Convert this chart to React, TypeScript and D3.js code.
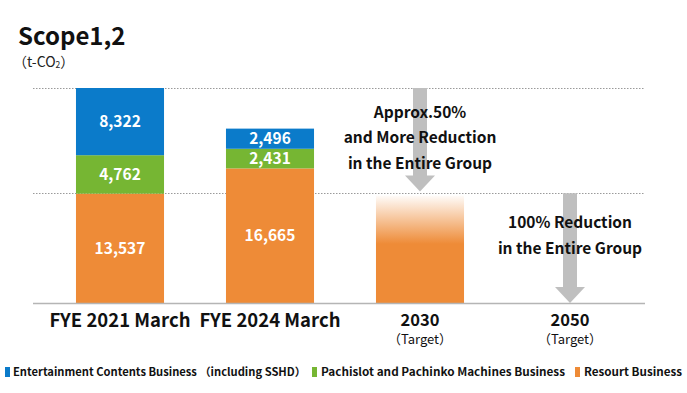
import * as d3 from 'd3';

const categories = ['FYE 2021 March', 'FYE 2024 March', '2030', '2050'];
const subLabels = ['', '', '（Target）', '（Target）'];
const seriesKeys = ['resort', 'pachislot', 'entertainment'];
const seriesNames = [
  'Entertainment Contents Business （including SSHD）',
  'Pachislot and Pachinko Machines Business',
  'Resourt Business',
];
const entertainment = [8322, 2496];
const pachislot = [4762, 2431];
const resort = [13537, 16665];
const target2030 = 13300;
const gridValues = [13600, 26621];
// arrow [from, to] in t-CO2 terms
const arrow2030 = [26621, 13800];
const arrow2050 = [13600, 0];
const note2030 = ['Approx.50%', 'and More Reduction', 'in the Entire Group'];
const note2050 = ['100% Reduction', 'in the Entire Group'];

const BLUE = '#0B7BCA';
const GREEN = '#76B633';
const ORANGE = '#EE8B37';
const ARROW = '#BFBFBF';
const FONT = '"Noto Sans CJK JP", "Noto Sans", sans-serif';

const colorOf: Record<string, string> = {
  entertainment: BLUE,
  pachislot: GREEN,
  resort: ORANGE,
};

const W = 687;
const H = 393;

const App = () => {
  const x = d3
    .scaleBand<string>()
    .domain(categories)
    .range([45, 645])
    .paddingInner(0.413)
    .paddingOuter(0.2065);
  const y = d3.scaleLinear().domain([0, 26621]).range([303, 88]);

  const rows = categories.slice(0, 2).map((c, i) => ({
    cat: c,
    entertainment: entertainment[i],
    pachislot: pachislot[i],
    resort: resort[i],
  }));
  const stacked = d3.stack<any>().keys(seriesKeys)(rows);

  const fmt = d3.format(',');
  const bw = x.bandwidth();

  const arrowPath = (cx: number, from: number, to: number) => {
    const top = y(from);
    const tip = y(to);
    const headLen = 16;
    const shaft = 7;
    const head = 15;
    const pts: [number, number][] = [
      [cx - shaft, top],
      [cx + shaft, top],
      [cx + shaft, tip - headLen],
      [cx + head, tip - headLen],
      [cx, tip],
      [cx - head, tip - headLen],
      [cx - shaft, tip - headLen],
    ];
    return d3.line()(pts) + 'Z';
  };

  const c2030 = x('2030')! + bw / 2;
  const c2050 = x('2050')! + bw / 2;

  const legendItems = [
    { name: seriesNames[0], color: BLUE, mx: 5, tx: 13, len: 293 },
    { name: seriesNames[1], color: GREEN, mx: 312, tx: 321, len: 244 },
    { name: seriesNames[2], color: ORANGE, mx: 575, tx: 584, len: 98 },
  ];

  return (
    <svg
      width={W}
      height={H}
      style={{ position: 'absolute', left: 0, top: 0, background: '#fff' }}
      fontFamily={FONT}
    >
      <defs>
        <linearGradient id="fade" x1="0" y1="0" x2="0" y2="1">
          <stop offset="0" stopColor={ORANGE} stopOpacity={0.03} />
          <stop offset="0.45" stopColor={ORANGE} stopOpacity={1} />
          <stop offset="1" stopColor={ORANGE} stopOpacity={1} />
        </linearGradient>
      </defs>

      {/* title */}
      <text x={18} y={45} fontSize={24} fontWeight="bold" fill="#111">
        Scope1,2
      </text>
      <text x={13} y={67} fontSize={14} fill="#222">
        （t-CO<tspan fontSize={8.5} dy={1}>2</tspan>
        <tspan dy={-1}>）</tspan>
      </text>

      {/* grid */}
      {gridValues.map((v) => (
        <line
          key={v}
          x1={33}
          x2={645}
          y1={Math.round(y(v)) + 0.5}
          y2={Math.round(y(v)) + 0.5}
          stroke="#9a9a9a"
          strokeWidth={1}
          strokeDasharray="1.5 1.5"
        />
      ))}

      {/* stacked bars */}
      {stacked.map((layer) =>
        layer.map((d, i) => (
          <rect
            key={layer.key + i}
            x={x(rows[i].cat)}
            width={bw}
            y={y(d[1])}
            height={y(d[0]) - y(d[1])}
            fill={colorOf[layer.key]}
          />
        ))
      )}
      {stacked.map((layer) =>
        layer.map((d, i) => (
          <text
            key={'t' + layer.key + i}
            x={x(rows[i].cat)! + bw / 2}
            y={(y(d[0]) + y(d[1])) / 2}
            dy="0.36em"
            textAnchor="middle"
            fontSize={15.5}
            fontWeight="bold"
            fill="#fff"
          >
            {fmt(d[1] - d[0])}
          </text>
        ))
      )}

      {/* 2030 target bar */}
      <rect
        x={x('2030')}
        width={bw}
        y={y(target2030)}
        height={y(0) - y(target2030)}
        fill="url(#fade)"
      />

      {/* arrows */}
      <path d={arrowPath(c2030, arrow2030[0], arrow2030[1])} fill={ARROW} />
      <path d={arrowPath(c2050, arrow2050[0], arrow2050[1])} fill={ARROW} />

      {/* baseline */}
      <line x1={33} x2={645} y1={303.5} y2={303.5} stroke="#b5b5b5" strokeWidth={1.5} />

      {/* notes */}
      {note2030.map((t, i) => (
        <text
          key={t}
          x={c2030}
          y={112 + i * 25.5}
          dy="0.36em"
          textAnchor="middle"
          fontSize={15.5}
          fontWeight="bold"
          fill="#111"
        >
          {t}
        </text>
      ))}
      {note2050.map((t, i) => (
        <text
          key={t}
          x={c2050}
          y={222 + i * 26}
          dy="0.36em"
          textAnchor="middle"
          fontSize={15.5}
          fontWeight="bold"
          fill="#111"
        >
          {t}
        </text>
      ))}

      {/* x axis labels */}
      {categories.map((c, i) => {
        const cx = x(c)! + bw / 2;
        const big = subLabels[i] === '';
        return (
          <g key={c}>
            {big ? (
              <text
                x={cx}
                y={327}
                textAnchor="middle"
                fontSize={19}
                fontWeight="bold"
                fill="#111"
                textLength={141}
                lengthAdjust="spacingAndGlyphs"
              >
                {c}
              </text>
            ) : (
              <text x={cx} y={326} textAnchor="middle" fontSize={16.5} fontWeight="bold" fill="#111">
                {c}
              </text>
            )}
            {subLabels[i] && (
              <text x={cx} y={344} textAnchor="middle" fontSize={13} fill="#111">
                {subLabels[i]}
              </text>
            )}
          </g>
        );
      })}

      {/* legend */}
      {legendItems.map((l) => (
        <g key={l.name}>
          <rect x={l.mx} y={367} width={5} height={10} fill={l.color} />
          <text
            x={l.tx}
            y={376}
            fontSize={11}
            fontWeight="bold"
            fill="#111"
            textLength={l.len}
            lengthAdjust="spacingAndGlyphs"
          >
            {l.name}
          </text>
        </g>
      ))}
    </svg>
  );
};

export default App;
